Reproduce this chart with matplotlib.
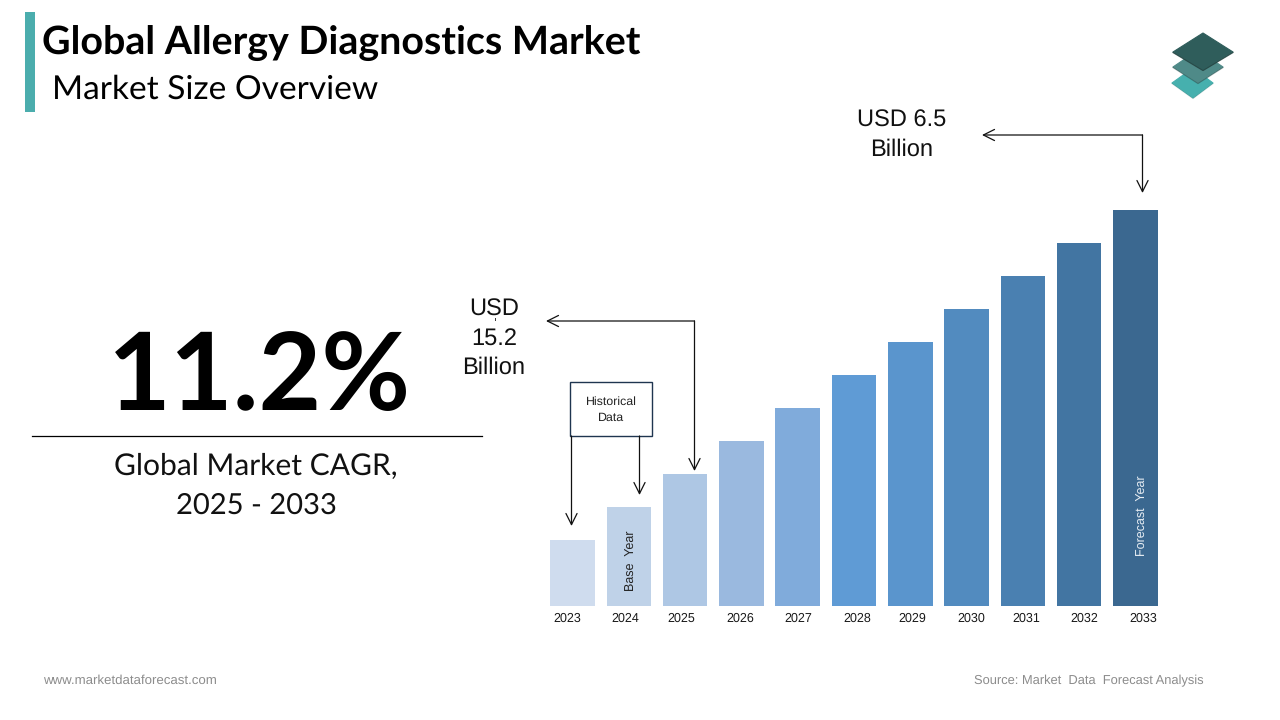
import matplotlib.pyplot as plt
from matplotlib.patches import Polygon, Rectangle

plt.rcParams["text.hinting"] = "none"

years = ["2023", "2024", "2025", "2026", "2027", "2028", "2029", "2030", "2031", "2032", "2033"]
# bar heights (no value axis in the original)
bar_values = [2, 3, 4, 5, 6, 7, 8, 9, 10, 11, 12]
bar_colors = ["#CFDCEE", "#BFD2E8", "#AEC7E4", "#9AB9DF", "#80ABDB", "#5F9BD5",
              "#5A95CD", "#528BBF", "#4A80B1", "#4275A2", "#3B6890"]
year_label_px = [567, 625, 681, 740, 798, 857, 912, 971, 1026, 1084, 1143]

W, H = 1280, 720
fig = plt.figure(figsize=(12.8, 7.2), dpi=100, facecolor="white")

# overlay in pixel coords, y pointing down like the picture
ov = fig.add_axes([0, 0, 1, 1], zorder=3)
ov.set_xlim(0, W)
ov.set_ylim(H, 0)
ov.axis("off")
ov.patch.set_alpha(0)

# bars
left_px, right_px = 516.2, 1191.8
ax = fig.add_axes([left_px / W, (H - 606) / H, (right_px - left_px) / W, 396 / H], zorder=1)
ax.bar(range(len(years)), bar_values, width=0.79, color=bar_colors)
ax.set_xlim(-1, 11)
ax.set_ylim(0, 12)
ax.axis("off")

for px, yr in zip(year_label_px, years):
    ov.text(px, 619, yr, ha="center", va="center", fontsize=9, family="Liberation Sans", color="#1a1a1a")

ov.text(632, 560.5, "Base  Year", rotation=90, ha="center", va="center", fontsize=9,
        family="Liberation Sans", color="#222222")
ov.text(1143, 515.5, "Forecast  Year", rotation=90, ha="center", va="center", fontsize=9,
        family="Liberation Sans", color="#E8EEF4")


def arrow(x0, y0, x1, y1):
    ov.annotate("", xy=(x1, y1), xytext=(x0, y0),
                arrowprops=dict(arrowstyle="->,head_length=0.8,head_width=0.4", color="#111111",
                                lw=0.9, shrinkA=0, shrinkB=0))


def layer(pts, color, lip):
    ov.add_patch(Polygon(pts, closed=True, facecolor=color, edgecolor=color, lw=0.8, joinstyle="round"))
    # darker lip along the lower edges
    ov.plot([pts[3][0], pts[2][0], pts[1][0]], [pts[3][1] + 0.6, pts[2][1] + 0.6, pts[1][1] + 0.6],
            color="#24413F", lw=0.8, alpha=lip)


# header
ov.add_patch(Rectangle((25, 12), 10, 100, facecolor="#4BADAD", edgecolor="none"))
ov.text(42, 55, "Global Allergy Diagnostics Market", fontsize=28.4, fontweight="bold",
        family="Lato", va="baseline", ha="left", color="black")
ov.text(52, 99, "Market Size Overview", fontsize=24.1, family="Lato", va="baseline", ha="left", color="black")

# logo
layer([(1193, 68), (1213, 83), (1193, 98), (1172, 83)], "#46B0AE", 0.15)
layer([(1198, 50), (1223, 67), (1198, 83), (1173, 67)], "#4F8A88", 0.4)
layer([(1203, 33), (1233, 52), (1203, 70), (1173, 52)], "#2F5D5B", 0.8)

# CAGR block
ov.text(259, 410, "11.2%", fontsize=78, fontweight="bold", family="Lato", ha="center", va="baseline", color="black")
ov.plot([32, 482], [436, 436], color="black", lw=0.9)
ov.text(256, 466, "Global Market CAGR,", fontsize=21.6, family="Lato", ha="center", va="center", color="#111111")
ov.text(256, 506, "2025 - 2033", fontsize=21, family="Lato", ha="center", va="center", color="#111111")

# USD callouts
ov.text(902, 121, "USD 6.5", fontsize=17, family="Liberation Sans", ha="center", va="center", color="#111111")
ov.text(902, 150, "Billion", fontsize=17, family="Liberation Sans", ha="center", va="center", color="#111111")
arrow(1142.5, 135, 982, 135)
arrow(1142.5, 135, 1142.5, 193)

ov.text(494, 310, "USD", fontsize=17, family="Liberation Sans", ha="center", va="center", color="#111111")
ov.text(494.5, 340, "15.2", fontsize=17, family="Liberation Sans", ha="center", va="center", color="#111111")
ov.text(494, 368, "Billion", fontsize=17, family="Liberation Sans", ha="center", va="center", color="#111111")
ov.plot([494.5, 494.5], [318, 320], color="#333333", lw=0.7)
arrow(694.5, 321, 546, 321)
arrow(694.5, 321, 694.5, 471)

# historical data box
ov.add_patch(Rectangle((570, 382), 82, 54, facecolor="white", edgecolor="#1F3550", lw=1))
ov.text(611, 402, "Historical", fontsize=8.9, family="Liberation Sans", ha="center", va="center", color="#222222")
ov.text(611, 418, "Data", fontsize=8.9, family="Liberation Sans", ha="center", va="center", color="#222222")
arrow(571.5, 436, 571.5, 526)
arrow(639.5, 436, 639.5, 495)

# footer
ov.text(43, 681, "www.marketdataforecast.com", fontsize=9.5, family="Liberation Sans", color="#8C8C8C", ha="left", va="center")
ov.text(1204, 681, "Source: Market  Data  Forecast Analysis", fontsize=9.3, family="Liberation Sans", color="#8C8C8C", ha="right", va="center")

fig.savefig("out.png", dpi=100)
